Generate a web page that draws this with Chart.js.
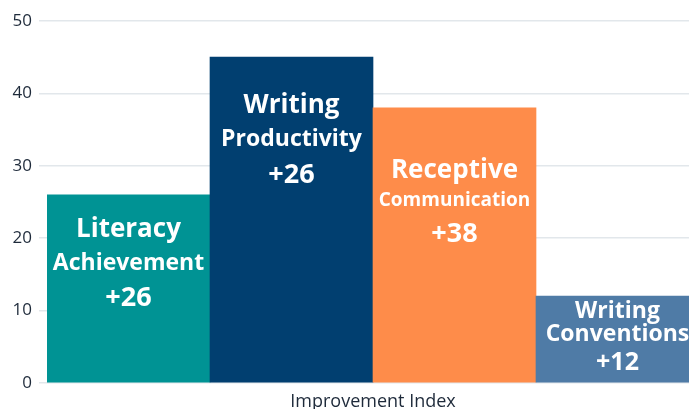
<!DOCTYPE html>
<html>
<head>
<meta charset="utf-8">
<script src="https://cdn.jsdelivr.net/npm/chart.js@4"></script>
<style>
  html, body { margin: 0; padding: 0; background: #fff; overflow: hidden; }
  #wrap { width: 699px; height: 409px; }
</style>
</head>
<body>
<div id="wrap"><canvas id="chart" width="699" height="409"></canvas></div>
<script>
// Chart data
const categories = ['Literacy Achievement', 'Writing Productivity', 'Receptive Communication', 'Writing Conventions'];
const values = [26, 45, 38, 12];
const barLabels = [
    ['Literacy', 'Achievement', '+26'],
    ['Writing', 'Productivity', '+26'],
    ['Receptive', 'Communication', '+38'],
    ['Writing', 'Conventions', '+12']
];
const yTicks = [0, 10, 20, 30, 40, 50];
const axisTitle = 'Improvement Index';

const colors = ['#009394', '#013f70', '#fe8c4a', '#4f7ba6'];

// per bar: [offset of each line center below bar top, font size]
const labelLayout = [
    [[35, 26], [69, 23], [104, 27]],
    [[48, 26], [82, 23], [118, 27]],
    [[63, 26], [93, 19], [126, 27]],
    [[15, 23], [38, 23], [67, 25]]
];

const barText = {
    id: 'barText',
    afterDatasetsDraw(chart) {
        const ctx = chart.ctx;
        const meta = chart.getDatasetMeta(0);
        ctx.save();
        ctx.fillStyle = '#ffffff';
        ctx.textAlign = 'center';
        ctx.textBaseline = 'middle';
        meta.data.forEach((bar, i) => {
            barLabels[i].forEach((line, j) => {
                const [dy, size] = labelLayout[i][j];
                ctx.font = `700 ${size}px "Open Sans"`;
                ctx.fillText(line, bar.x, bar.y + dy);
            });
        });
        ctx.restore();
    }
};

new Chart(document.getElementById('chart'), {
    type: 'bar',
    data: {
        labels: categories,
        datasets: [{
            data: values,
            backgroundColor: colors,
            barPercentage: 1,
            categoryPercentage: 1,
            borderWidth: 0
        }]
    },
    options: {
        responsive: false,
        animation: false,
        layout: { padding: { top: 21, right: 0, left: 0, bottom: 0 } },
        plugins: {
            legend: { display: false },
            tooltip: { enabled: false }
        },
        scales: {
            x: {
                grid: { display: false },
                border: { display: false },
                ticks: { display: false },
                title: {
                    display: true,
                    text: axisTitle,
                    color: '#1e2a3a',
                    font: { family: 'Open Sans', size: 18 },
                    padding: { top: 8, bottom: -4 }
                },
                afterFit: s => { s.height = 26; }
            },
            y: {
                min: 0,
                max: 50,
                afterBuildTicks: s => { s.ticks = yTicks.map(v => ({ value: v })); },
                grid: { color: '#e2e7eb', lineWidth: 1.5 },
                border: { display: false },
                ticks: {
                    color: '#1e2a3a',
                    font: { family: 'Open Sans', size: 17 },
                    padding: 7
                },
                afterFit: s => { s.width = 47; }
            }
        }
    },
    plugins: [barText]
});
</script>
</body>
</html>
